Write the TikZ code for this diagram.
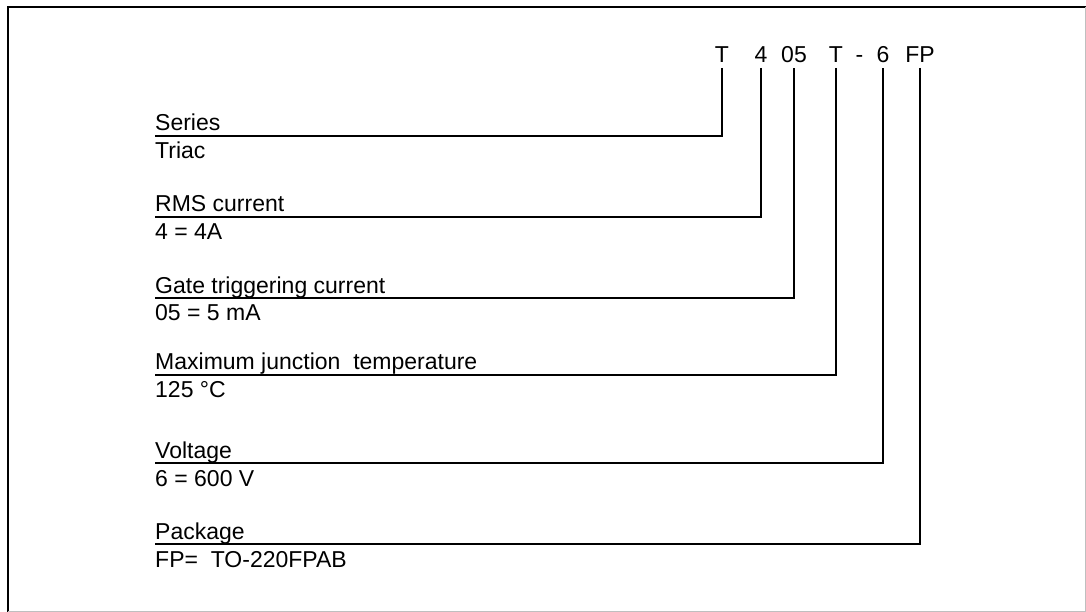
\documentclass[tikz,border=0pt]{standalone}
\usepackage{fontspec}
\setmainfont{Liberation Sans}
\usetikzlibrary{positioning}

\begin{document}
\begin{tikzpicture}[x=1pt,y=-1pt,code/.style={font=\fontsize{23}{27}\selectfont, anchor=base, inner sep=0pt, outer ysep=5pt},lbl/.style={font=\fontsize{23}{27}\selectfont, anchor=base west, inner sep=0pt},lead/.style={line width=2pt}]
\useasboundingbox (0,0) rectangle (1086,612);
% frame
\draw[line width=2.5pt] (8,612) -- (8,7) -- (1086,7);
\draw[black!25, line width=1pt] (1085.5,7) -- (1085.5,611.5) -- (8,611.5);
% part number
\node[code] (cT) at (722,63) {T};
\node[code] (c4) at (761,63) {4};
\node[code] (c05) at (794,63) {05};
\node[code] (cT2) at (836,63) {T};
\node[code] (cdash) at (859.5,63) {-};
\node[code] (c6) at (883,63) {6};
\node[code] (cFP) at (920,63) {FP};
% series
\coordinate (eSeries) at (155,136);
\node[lbl] (lSeries) at (155,131) {Series};
\node[lbl] (vSeries) at (155,159) {Triac};
\draw[lead] (cT.south) |- (eSeries);
% current
\coordinate (eRms) at (155,217);
\node[lbl] (lRms) at (155,212) {RMS current};
\node[lbl] (vRms) at (155,240) {4 = 4A};
\draw[lead] (c4.south) |- (eRms);
% gate
\coordinate (eGate) at (155,298);
\node[lbl] (lGate) at (155,293) {Gate triggering current};
\node[lbl] (vGate) at (155,320) {05 = 5 mA};
\draw[lead] (c05.south) |- (eGate);
% temperature
\coordinate (eTemp) at (155,375);
\node[lbl] (lTemp) at (155,369) {Maximum junction\ \ temperature};
\node[lbl] (vTemp) at (155,397) {125 °C};
\draw[lead] (cT2.south) |- (eTemp);
% voltage
\coordinate (eVolt) at (155,463);
\node[lbl] (lVolt) at (155,458) {Voltage};
\node[lbl] (vVolt) at (155,486) {6 = 600 V};
\draw[lead] (c6.south) |- (eVolt);
% package
\coordinate (ePack) at (155,544);
\node[lbl] (lPack) at (155,539) {Package};
\node[lbl] (vPack) at (155,567) {FP=\ \ TO-220FPAB};
\draw[lead] (cFP.south) |- (ePack);
\end{tikzpicture}
\end{document}
